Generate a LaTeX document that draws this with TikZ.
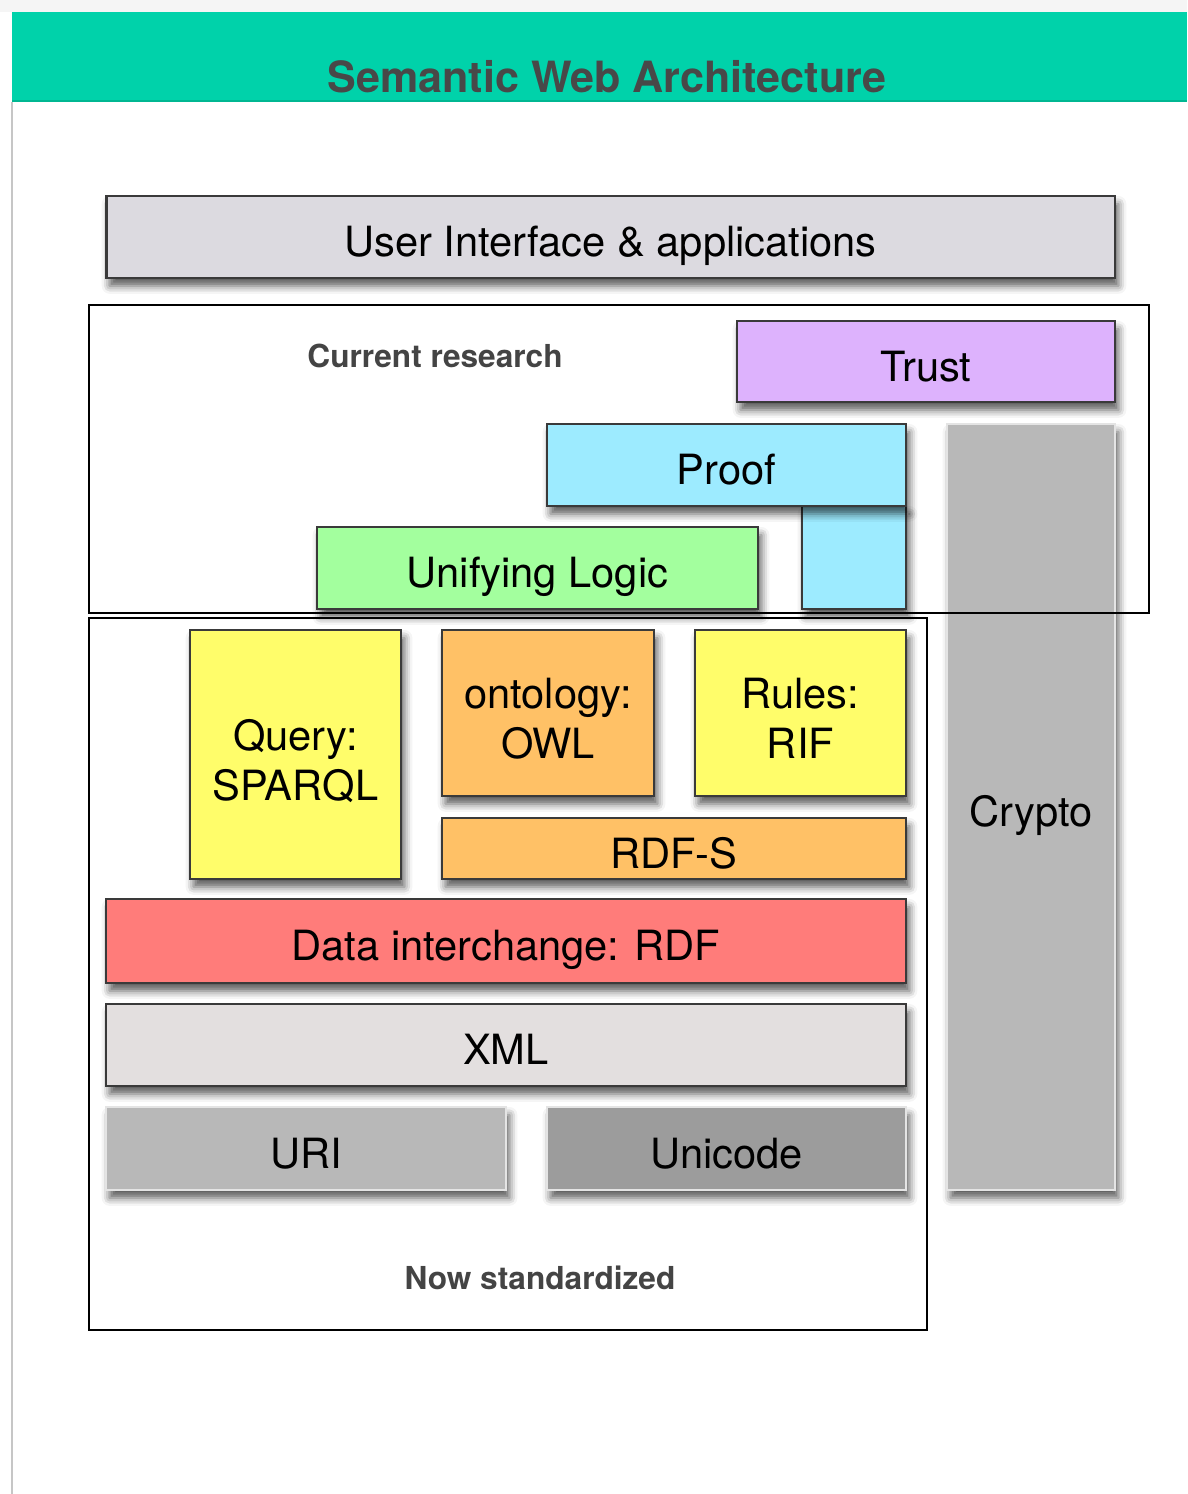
\documentclass[tikz,border=0pt]{standalone}
\usepackage{fontspec}
\setmainfont{TeX Gyre Heros}
\usetikzlibrary{shadows.blur}

\definecolor{headgreen}{HTML}{00D2AA}
\definecolor{headline}{HTML}{00B792}
\definecolor{titlegrey}{HTML}{484848}
\definecolor{labelgrey}{HTML}{444444}
\definecolor{layerline}{HTML}{3A3A3A}
\definecolor{greyline}{HTML}{E4E4E4}
\definecolor{uifill}{HTML}{DCDAE0}
\definecolor{trustfill}{HTML}{DDB2FD}
\definecolor{prooffill}{HTML}{9DEBFF}
\definecolor{logicfill}{HTML}{A3FF9E}
\definecolor{queryfill}{HTML}{FFFD6A}
\definecolor{owlfill}{HTML}{FFC166}
\definecolor{rdffill}{HTML}{FF7C7A}
\definecolor{xmlfill}{HTML}{E3DFDF}
\definecolor{urifill}{HTML}{B8B8B8}
\definecolor{unicodefill}{HTML}{9C9C9C}

\tikzset{
    layer/.style={draw=layerline, line width=1.6pt, inner sep=0pt, align=center,
        font=\fontsize{23.7}{28.5}\selectfont, text height=22.7pt, text depth=0pt,
        blur shadow={shadow xshift=2pt, shadow yshift=-4.5pt, shadow blur radius=4.5pt, shadow opacity=65}},
    greylayer/.style={layer, draw=greyline},
    twolines/.style={text height=52pt},
    frame/.style={draw=black, line width=1.2pt},
    note/.style={font=\fontsize{18}{20}\selectfont\bfseries, text=labelgrey}
}

\begin{document}
\begin{tikzpicture}[x=0.02cm, y=-0.02cm]
    \useasboundingbox (0,0) rectangle (1187,1494);
    % page edge
    \fill[gray!8] (0,0) rectangle (1187,12);
    \draw[gray!45, line width=0.8pt] (12,102) -- (12,1494);

    % header
    \fill[headgreen] (12,12) rectangle (1187,102);
    \draw[headline, line width=1.2pt] (12,101) -- (1187,101);
    \node[anchor=base, font=\fontsize{24.5}{28}\selectfont\bfseries, text=titlegrey] (title) at (607,92) {Semantic Web Architecture};

    % top layers
    \node[layer, fill=uifill, minimum width=20.18cm, minimum height=1.64cm] (ui) at (610.5,237) {User Interface \& applications};
    \node[layer, fill=trustfill, minimum width=7.56cm, minimum height=1.62cm] (trust) at (926,361.5) {Trust};
    \node[greylayer, fill=urifill, minimum width=3.36cm, minimum height=15.32cm] (crypto) at (1031,807) {Crypto};
    \node[layer, fill=prooffill, minimum width=2.08cm, minimum height=2.06cm] (proofleg) at (854,557.5) {};
    \node[layer, fill=prooffill, minimum width=7.18cm, minimum height=1.64cm] (proof) at (726.5,465) {Proof};
    \node[layer, fill=logicfill, minimum width=8.82cm, minimum height=1.64cm] (logic) at (537.5,568) {Unifying Logic};

    % standard layers
    \node[layer, twolines, fill=queryfill, minimum width=4.22cm, minimum height=4.98cm] (query) at (295.5,754.5) {Query:\\SPARQL};
    \node[layer, twolines, fill=owlfill, minimum width=4.24cm, minimum height=3.32cm] (owl) at (548,713) {ontology:\\OWL};
    \node[layer, twolines, fill=queryfill, minimum width=4.22cm, minimum height=3.32cm] (rif) at (800.5,713) {Rules:\\RIF};
    \node[layer, fill=owlfill, minimum width=9.28cm, minimum height=1.22cm] (rdfs) at (674,848.5) {RDF-S};
    \node[layer, fill=rdffill, minimum width=16cm, minimum height=1.68cm] (rdf) at (506,941) {Data interchange: RDF};
    \node[layer, fill=xmlfill, minimum width=16cm, minimum height=1.64cm] (xml) at (506,1045) {XML};
    \node[greylayer, fill=urifill, minimum width=8cm, minimum height=1.66cm] (uri) at (306,1148.5) {URI};
    \node[greylayer, fill=unicodefill, minimum width=7.18cm, minimum height=1.66cm] (unicode) at (726.5,1148.5) {Unicode};

    % frames
    \draw[frame] (89,305) rectangle (1149,613);
    \draw[frame] (89,618) rectangle (927,1330);
    \node[note] (research) at (435,356) {Current research};
    \node[note] (standard) at (540,1278) {Now standardized};
\end{tikzpicture}
\end{document}
